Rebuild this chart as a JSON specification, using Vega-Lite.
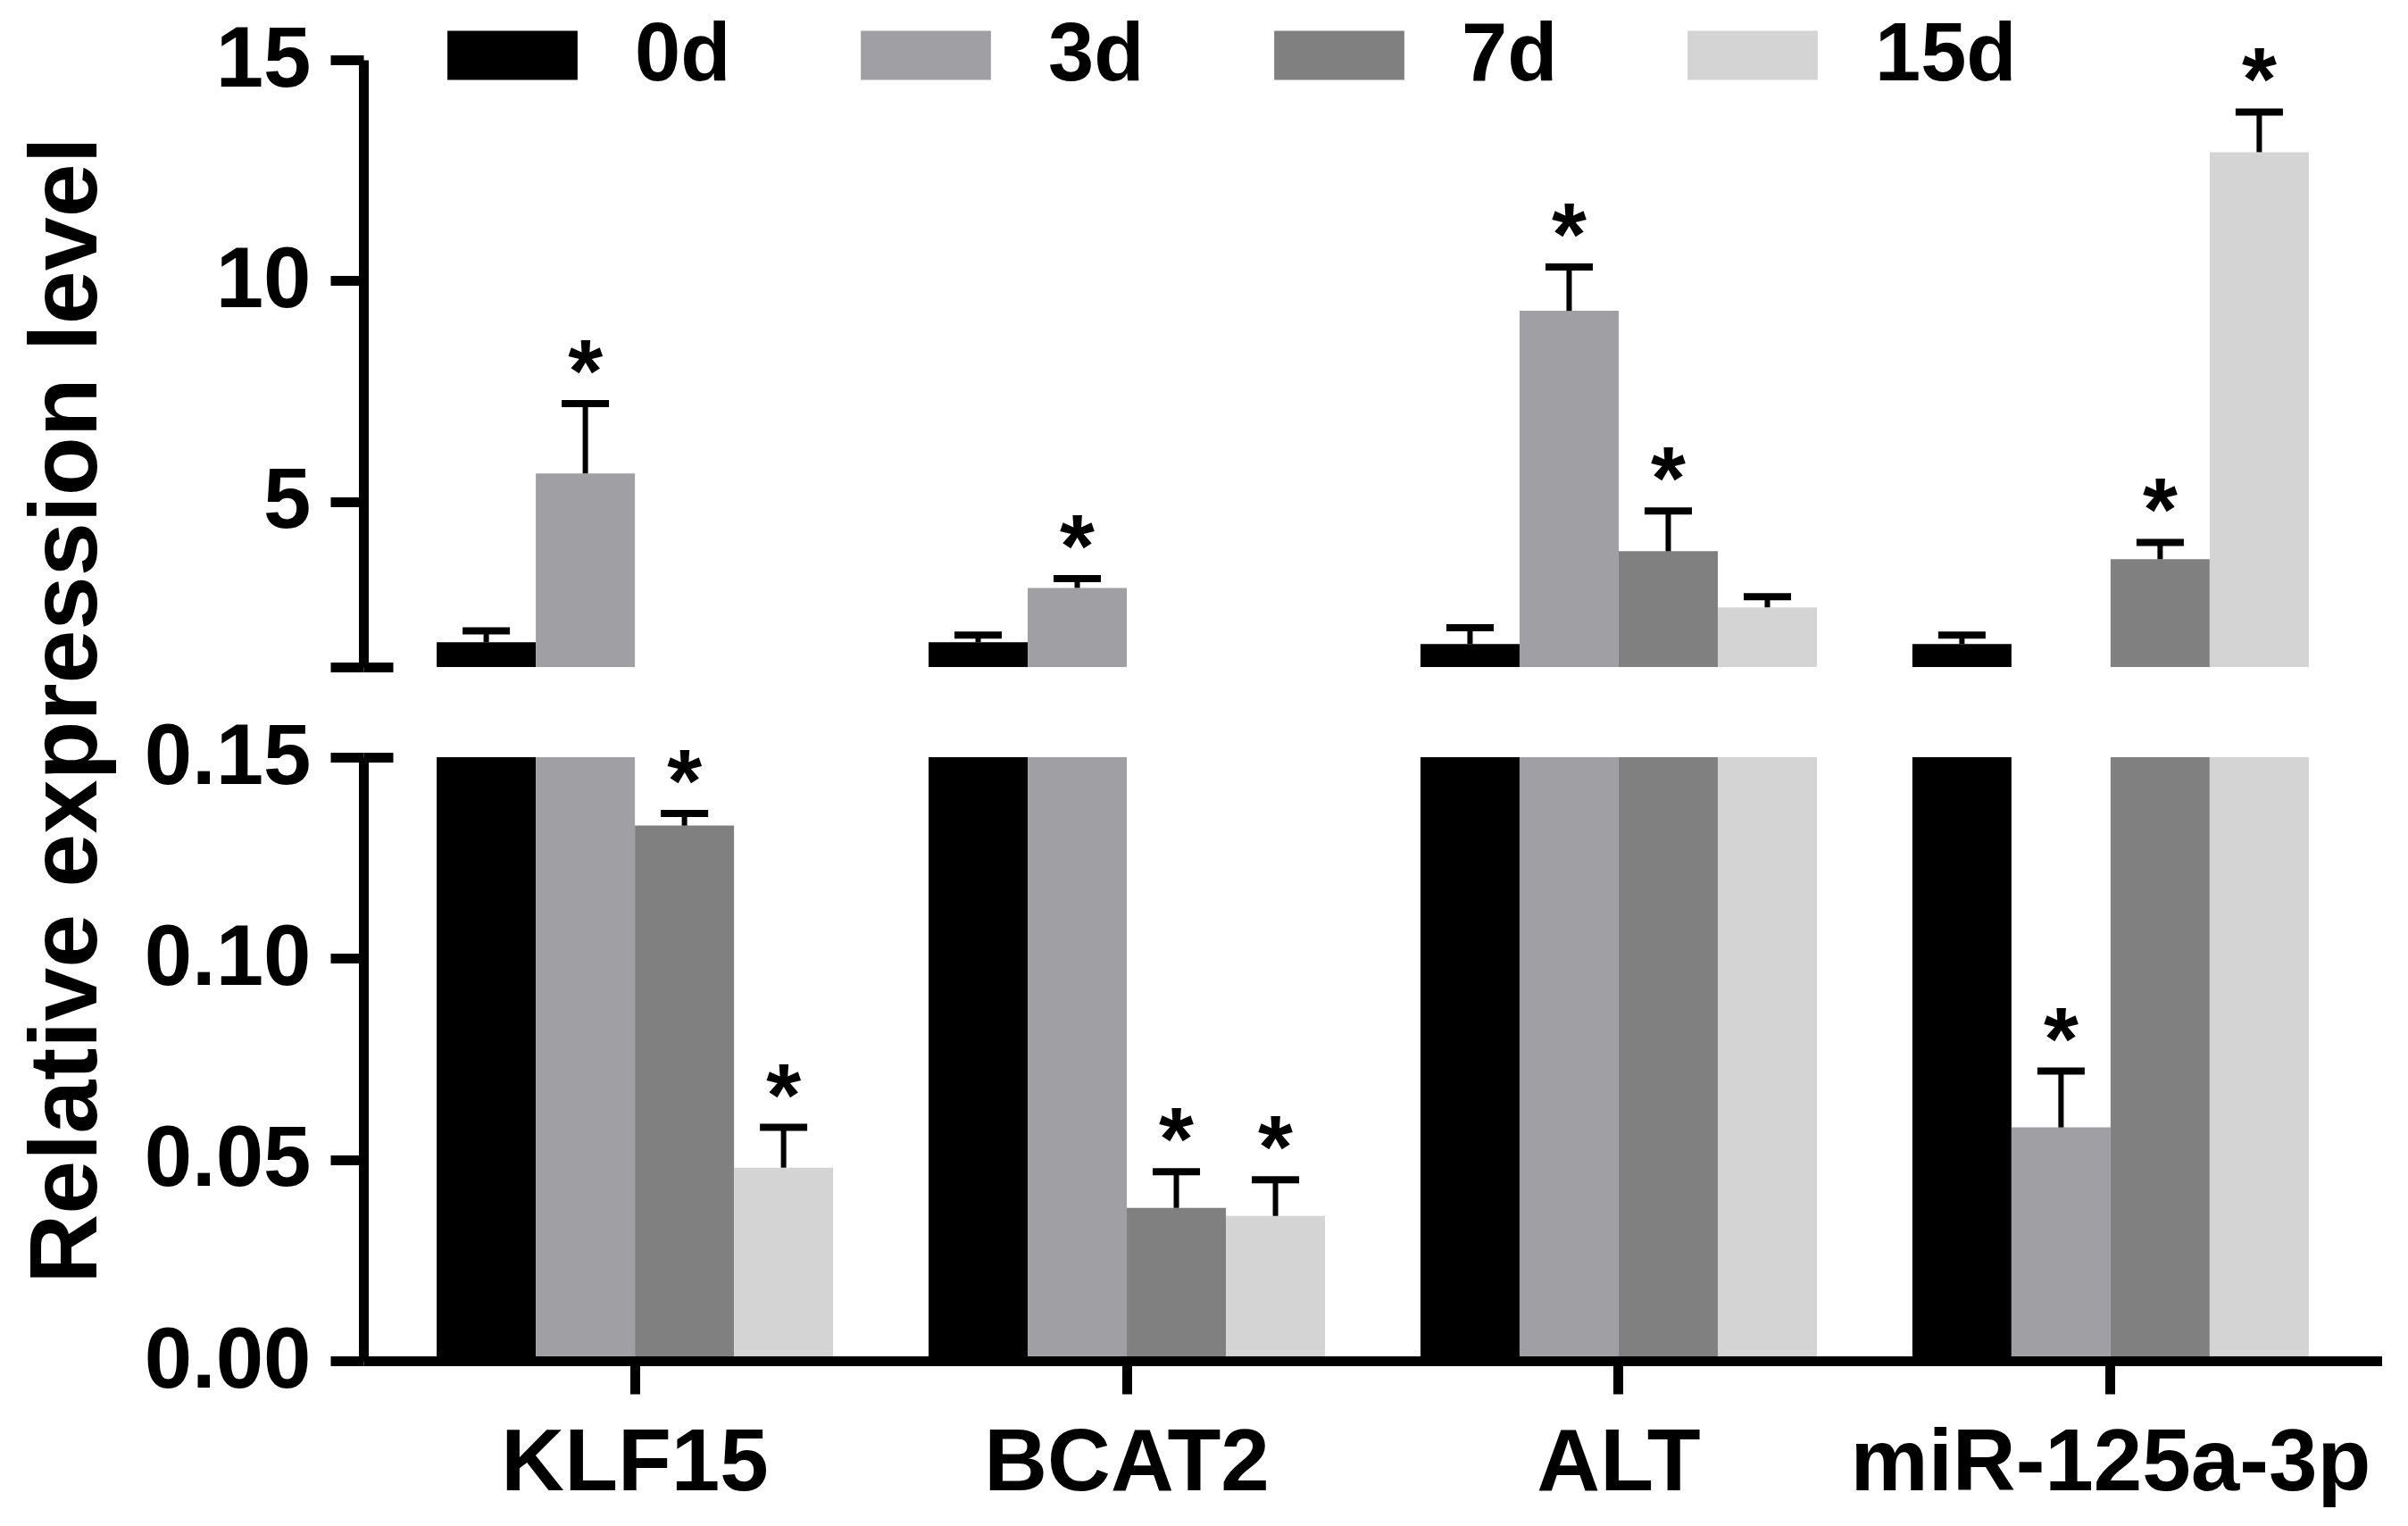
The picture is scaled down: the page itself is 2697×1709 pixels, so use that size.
{
  "$schema": "https://vega.github.io/schema/vega-lite/v6.json",
  "padding": {"left": 20, "top": 16, "right": 0, "bottom": 0},
  "background": "white",
  "config": {
    "view": {"stroke": null},
    "font": "Liberation Sans",
    "axis": {
      "labelFont": "Liberation Sans",
      "labelFontWeight": "bold",
      "labelColor": "black",
      "titleFont": "Liberation Sans",
      "titleFontWeight": "bold",
      "titleColor": "black",
      "domainColor": "black",
      "tickColor": "black",
      "domainWidth": 11,
      "tickWidth": 11,
      "tickSize": 37,
      "labelFlush": false,
      "labelOverlap": false,
      "labelLimit": 800
    }
  },
  "datasets": {
    "expr": [
      {"gene": "KLF15", "day": "0d", "mean": 1.82, "upper": 2.08, "sig": 0},
      {"gene": "KLF15", "day": "3d", "mean": 5.64, "upper": 7.22, "sig": 1},
      {"gene": "KLF15", "day": "7d", "mean": 0.133, "upper": 0.136, "sig": 1},
      {"gene": "KLF15", "day": "15d", "mean": 0.048, "upper": 0.058, "sig": 1},
      {"gene": "BCAT2", "day": "0d", "mean": 1.82, "upper": 1.98, "sig": 0},
      {"gene": "BCAT2", "day": "3d", "mean": 3.05, "upper": 3.26, "sig": 1},
      {"gene": "BCAT2", "day": "7d", "mean": 0.038, "upper": 0.047, "sig": 1},
      {"gene": "BCAT2", "day": "15d", "mean": 0.036, "upper": 0.045, "sig": 1},
      {"gene": "ALT", "day": "0d", "mean": 1.78, "upper": 2.15, "sig": 0},
      {"gene": "ALT", "day": "3d", "mean": 9.32, "upper": 10.31, "sig": 1},
      {"gene": "ALT", "day": "7d", "mean": 3.88, "upper": 4.79, "sig": 1},
      {"gene": "ALT", "day": "15d", "mean": 2.61, "upper": 2.85, "sig": 0},
      {"gene": "miR-125a-3p", "day": "0d", "mean": 1.78, "upper": 1.98, "sig": 0},
      {"gene": "miR-125a-3p", "day": "3d", "mean": 0.058, "upper": 0.072, "sig": 1},
      {"gene": "miR-125a-3p", "day": "7d", "mean": 3.70, "upper": 4.08, "sig": 1},
      {"gene": "miR-125a-3p", "day": "15d", "mean": 12.91, "upper": 13.82, "sig": 1}
    ]
  },
  "bounds": "flush",
  "spacing": 101,
  "resolve": {"scale": {"y": "independent", "color": "independent"}},
  "vconcat": [
    {
      "width": 2261,
      "height": 680,
      "data": {"name": "expr"},
      "encoding": {
        "x": {"field": "gene", "type": "nominal", "axis": null,
              "scale": {"domain": ["KLF15", "BCAT2", "ALT", "miR-125a-3p"], "paddingInner": 0.194, "paddingOuter": 0.149}},
        "xOffset": {"field": "day", "type": "nominal",
                    "scale": {"domain": ["0d", "3d", "7d", "15d"], "paddingInner": 0, "paddingOuter": 0}}
      },
      "layer": [
        {
          "mark": {"type": "bar", "clip": true},
          "encoding": {
            "y": {"field": "mean", "type": "quantitative",
                  "scale": {"domain": [1.26, 15], "zero": false, "nice": false},
                  "axis": {"title": null, "values": [1.26, 5, 10, 15], "labelFontSize": 96, "labelPadding": 22,
                           "labelExpr": "datum.value < 2 ? '' : format(datum.value, 'd')",
                           "grid": true, "gridColor": "black", "gridWidth": 11, "gridDash": [33, 5000],
                           "gridOpacity": {"condition": {"test": "datum.value < 2", "value": 1}, "value": 0},
                           "zindex": 1}},
            "color": {"field": "day", "type": "nominal",
                      "scale": {"domain": ["0d", "3d", "7d", "15d"], "range": ["#000000", "#a0a0a4", "#808080", "#d4d4d4"]},
                      "legend": {"title": null, "orient": "none", "direction": "horizontal", "legendX": 121, "legendY": -51,
                                 "padding": 0, "symbolType": "M-2.65,-1H2.65V1H-2.65Z", "symbolSize": 3025, "symbolStrokeWidth": 0,
                                 "labelFont": "Liberation Sans", "labelFontWeight": "bold", "labelFontSize": 92, "labelColor": "black",
                                 "labelOffset": 91, "columnPadding": 145, "labelLimit": 400}}
          }
        },
        {
          "mark": {"type": "rule", "clip": true, "strokeWidth": 6, "color": "black", "opacity": 1},
          "encoding": {"y": {"field": "mean", "type": "quantitative"}, "y2": {"field": "upper"}}
        },
        {
          "mark": {"type": "tick", "clip": true, "orient": "horizontal", "size": 53, "thickness": 8, "color": "black", "opacity": 1},
          "encoding": {"y": {"field": "upper", "type": "quantitative"}}
        },
        {
          "transform": [{"filter": "datum.sig == 1 && datum.upper > 1.26"}],
          "mark": {"type": "text", "text": "*", "font": "Liberation Sans", "fontWeight": "bold", "fontSize": 100,
                   "baseline": "alphabetic", "align": "center", "dy": -2, "color": "black"},
          "encoding": {"y": {"field": "upper", "type": "quantitative"}}
        }
      ]
    },
    {
      "width": 2261,
      "height": 676,
      "data": {"name": "expr"},
      "encoding": {
        "x": {"field": "gene", "type": "nominal",
              "scale": {"domain": ["KLF15", "BCAT2", "ALT", "miR-125a-3p"], "paddingInner": 0.194, "paddingOuter": 0.149},
              "axis": {"title": null, "labelAngle": 0, "labelFontSize": 98, "labelPadding": 30, "zindex": 1}},
        "xOffset": {"field": "day", "type": "nominal",
                    "scale": {"domain": ["0d", "3d", "7d", "15d"], "paddingInner": 0, "paddingOuter": 0}}
      },
      "layer": [
        {
          "mark": {"type": "bar", "clip": true},
          "encoding": {
            "y": {"field": "mean", "type": "quantitative",
                  "scale": {"domain": [0, 0.15], "nice": false},
                  "axis": {"title": "Relative expression level", "titleFontSize": 108, "titleX": -300, "titleY": -53,
                           "titleBaseline": "alphabetic", "titleAngle": 270, "titleAlign": "center",
                           "values": [0, 0.05, 0.1, 0.15], "format": ".2f", "labelFontSize": 96, "labelPadding": 22,
                           "grid": true, "gridColor": "black", "gridWidth": 11, "gridDash": [33, 5000],
                           "gridOpacity": {"condition": {"test": "datum.value > 0.14", "value": 1}, "value": 0},
                           "zindex": 1}},
            "color": {"field": "day", "type": "nominal",
                      "scale": {"domain": ["0d", "3d", "7d", "15d"], "range": ["#000000", "#a0a0a4", "#808080", "#d4d4d4"]},
                      "legend": null}
          }
        },
        {
          "mark": {"type": "rule", "clip": true, "strokeWidth": 6, "color": "black", "opacity": 1},
          "encoding": {"y": {"field": "mean", "type": "quantitative"}, "y2": {"field": "upper"}}
        },
        {
          "mark": {"type": "tick", "clip": true, "orient": "horizontal", "size": 53, "thickness": 8, "color": "black", "opacity": 1},
          "encoding": {"y": {"field": "upper", "type": "quantitative"}}
        },
        {
          "transform": [{"filter": "datum.sig == 1 && datum.upper < 0.15"}],
          "mark": {"type": "text", "text": "*", "font": "Liberation Sans", "fontWeight": "bold", "fontSize": 100,
                   "baseline": "alphabetic", "align": "center", "dy": -2, "color": "black"},
          "encoding": {"y": {"field": "upper", "type": "quantitative"}}
        }
      ]
    }
  ]
}
